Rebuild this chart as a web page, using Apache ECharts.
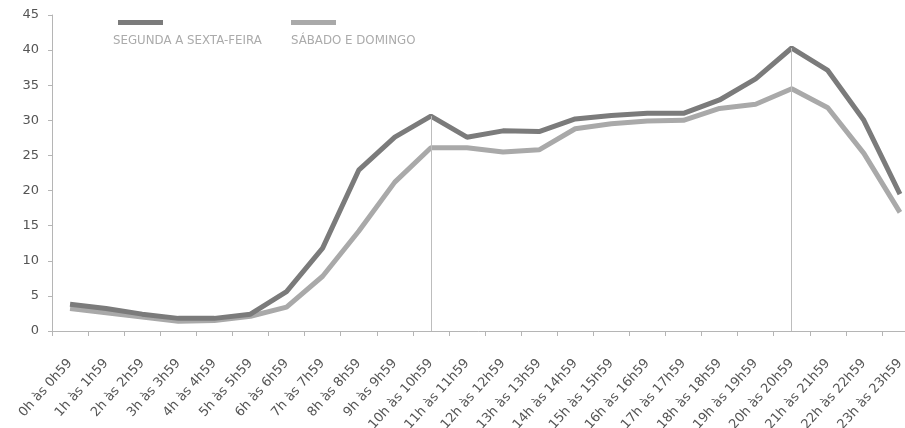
<!DOCTYPE html>
<html>
<head>
<meta charset="utf-8">
<script src="https://cdn.jsdelivr.net/npm/echarts@6/dist/echarts.min.js"></script>
<style>html,body{margin:0;padding:0;background:#fff}#c{width:905px;height:428px}</style>
</head>
<body>
<div id="c"></div>
<script>
const categories = ["0h às 0h59","1h às 1h59","2h às 2h59","3h às 3h59","4h às 4h59","5h às 5h59","6h às 6h59","7h às 7h59","8h às 8h59","9h às 9h59","10h às 10h59","11h às 11h59","12h às 12h59","13h às 13h59","14h às 14h59","15h às 15h59","16h às 16h59","17h às 17h59","18h às 18h59","19h às 19h59","20h às 20h59","21h às 21h59","22h às 22h59","23h às 23h59"];
const semana = [3.8,3.2,2.4,1.8,1.8,2.4,5.6,11.8,22.9,27.6,30.6,27.6,28.5,28.4,30.2,30.7,31.0,31.0,32.9,35.9,40.3,37.1,30.0,19.5];
const fimDeSemana = [3.2,2.6,2.0,1.4,1.5,2.1,3.4,7.8,14.2,21.2,26.1,26.1,25.5,25.8,28.8,29.5,29.9,30.0,31.7,32.3,34.5,31.8,25.3,16.9];
const seriesNames = ["SEGUNDA A SEXTA-FEIRA","SÁBADO E DOMINGO"];
const highlightIdx = [10, 20];
const yTicks = {min: 0, max: 45, interval: 5};

const chart = echarts.init(document.getElementById('c'));
const darkColor = '#7b7b7b', lightColor = '#a9a9a9';
const markLineData = highlightIdx.map(i => [
  {coord: [categories[i], 0]},
  {coord: [categories[i], semana[i]]}
]);
chart.setOption({
  animation: false,
  backgroundColor: '#fff',
  grid: {left: 52, right: -13, top: 15, bottom: 97, containLabel: false, outerBoundsMode: 'none'},
  legend: {
    left: 113, top: 15,
    icon: 'rect', itemWidth: 45, itemHeight: 5, itemGap: 128,
    formatter: () => '',
    selectedMode: false,
    data: seriesNames
  },
  graphic: [
    {type: 'text', left: 113, top: 35, style: {text: seriesNames[0], fill: '#ababab', font: '11.8px "DejaVu Sans"'}},
    {type: 'text', left: 291, top: 35, style: {text: seriesNames[1], fill: '#ababab', font: '11.8px "DejaVu Sans"'}}
  ],
  xAxis: {
    type: 'category', data: categories, boundaryGap: true,
    axisLine: {lineStyle: {color: '#b5b5b5', width: 1}},
    axisTick: {show: true, interval: 0, length: 5, lineStyle: {color: '#b5b5b5'}},
    axisLabel: {interval: 0, rotate: 48, margin: 30, color: '#555', fontSize: 13, fontFamily: 'DejaVu Sans'},
    splitLine: {show: false}
  },
  yAxis: {
    type: 'value', min: yTicks.min, max: yTicks.max, interval: yTicks.interval,
    axisLine: {show: true, lineStyle: {color: '#b5b5b5', width: 1}},
    axisTick: {show: true, length: 4, lineStyle: {color: '#b5b5b5'}},
    axisLabel: {color: '#555', fontSize: 13, fontFamily: 'DejaVu Sans', margin: 13},
    splitLine: {show: false}
  },
  series: [
    {
      name: seriesNames[0], type: 'line', data: semana, symbol: 'none',
      lineStyle: {color: darkColor, width: 5}, itemStyle: {color: darkColor},
      z: 3,
      markLine: {
        silent: true, symbol: 'none', label: {show: false},
        lineStyle: {color: '#bdbdbd', width: 1, type: 'solid'},
        data: markLineData
      }
    },
    {
      name: seriesNames[1], type: 'line', data: fimDeSemana, symbol: 'none',
      lineStyle: {color: lightColor, width: 5}, itemStyle: {color: lightColor},
      z: 2
    }
  ]
});
</script>
</body>
</html>
